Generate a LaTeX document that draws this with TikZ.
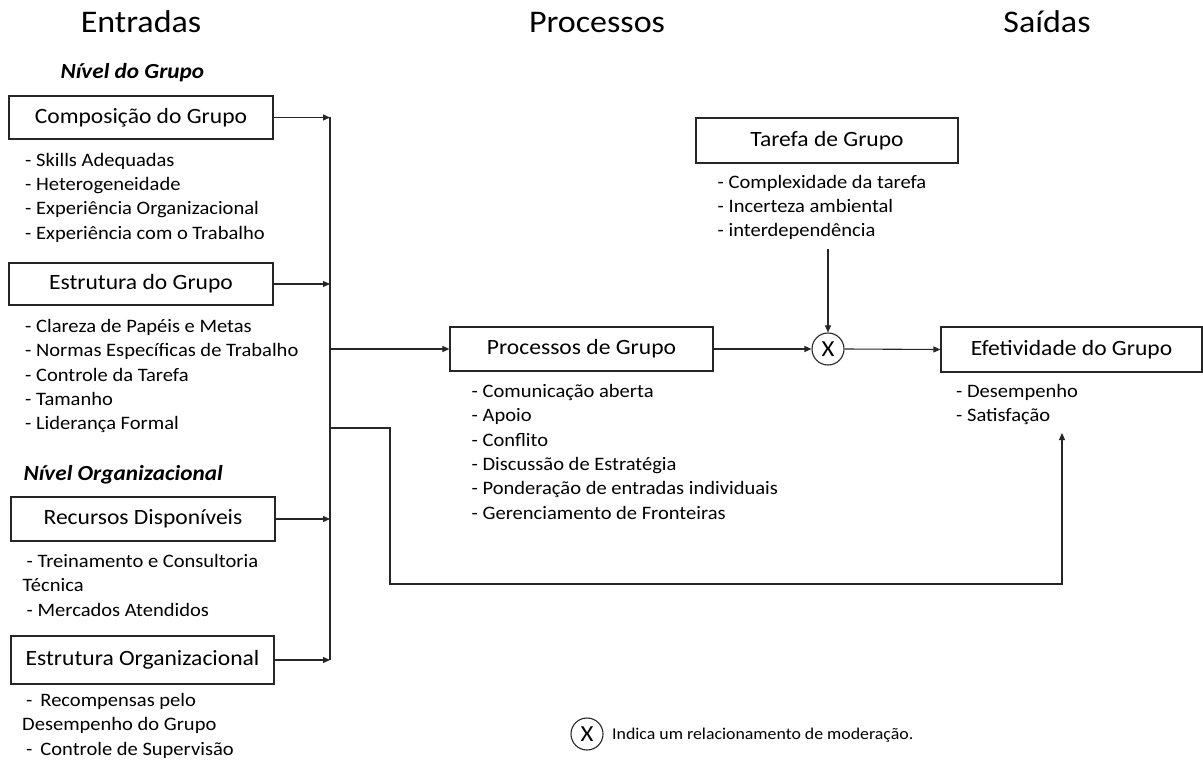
\documentclass[tikz,border=0pt]{standalone}
\usepackage{fontspec}
\setmainfont{Carlito}[FakeStretch=1.08]
\usetikzlibrary{arrows.meta}
\begin{document}
\begin{tikzpicture}[x=1pt,y=-1pt,
  box/.style={draw=black!85,line width=1.2pt,inner sep=0pt,font=\fontsize{21.8}{26}\selectfont,text=black},
  hdr/.style={font=\fontsize{31.5}{36}\selectfont,anchor=base,text=black},
  lvl/.style={font=\fontsize{21.5}{26}\selectfont\bfseries\itshape,anchor=base west,text=black},
  lst/.style={font=\fontsize{19}{24.4}\selectfont,align=left,inner sep=0pt,anchor=north west,yshift=17.08pt,text=black},
  con/.style={line width=1.1pt,draw=black!85},
  arr/.style={con,-{Triangle[length=7pt,width=6pt]}},
  modc/.style={circle,draw=black!85,line width=1.1pt,minimum size=32pt,inner sep=0pt,font=\fontsize{23}{26}\selectfont}
]
\useasboundingbox (0,0) rectangle (1203,762);
% headers
\node[hdr] (hE) at (141,33) {Entradas};
\node[hdr] (hP) at (597,33) {Processos};
\node[hdr] (hS) at (1047,33) {Saídas};
\node[lvl] (nG) at (57,79) {Nível do Grupo};
\node[lvl] (nO) at (20,480) {Nível Organizacional};
% boxes
\node[box,minimum width=264pt,minimum height=43pt] (comp) at (141,117.5) {Composição do Grupo};
\node[box,minimum width=264pt,minimum height=42pt] (estg) at (141,284) {Estrutura do Grupo};
\node[box,minimum width=264pt,minimum height=44pt] (recur) at (143,519) {Recursos Disponíveis};
\node[box,minimum width=263pt,minimum height=48pt] (estorg) at (142.5,660) {Estrutura Organizacional};
\node[box,minimum width=263pt,minimum height=44pt] (proc) at (581.5,349) {Processos de Grupo};
\node[box,minimum width=262pt,minimum height=45pt] (tar) at (827,140.5) {Tarefa de Grupo};
\node[box,minimum width=261pt,minimum height=45pt] (efet) at (1071.5,349.5) {Efetividade do Grupo};
\node[modc] (mod) at (828,349) {X};
% lists
\node[lst] (lcomp) at (25,166) {\strut- Skills Adequadas\\- Heterogeneidade\\- Experiência Organizacional\\- Experiência com o Trabalho};
\node[lst] (lestg) at (25,332) {\strut- Clareza de Papéis e Metas\\- Normas Específicas de Trabalho\\- Controle da Tarefa\\- Tamanho\\- Liderança Formal};
\node[lst] (lrecur) at (22.5,567) {\strut\hspace{4pt}- Treinamento e Consultoria\\Técnica\\\hspace{4pt}- Mercados Atendidos};
\node[lst] (lestorg) at (22,706) {\strut\hspace{4pt}-\hspace{8pt}Recompensas pelo\\Desempenho do Grupo\\\hspace{4pt}-\hspace{8pt}Controle de Supervisão};
\node[lst] (lproc) at (471.5,397) {\strut- Comunicação aberta\\- Apoio\\- Conflito\\- Discussão de Estratégia\\- Ponderação de entradas individuais\\- Gerenciamento de Fronteiras};
\node[lst] (ltar) at (717.5,188) {\strut- Complexidade da tarefa\\- Incerteza ambiental\\- interdependência};
\node[lst] (lefet) at (956,397) {\strut- Desempenho\\- Satisfação};
% bus
\coordinate (bt) at (330,117);
\coordinate (bb) at (330,660);
\coordinate (bp) at (330,349);
\coordinate (bl) at (330,428);
\coordinate (l1) at (390,428);
\coordinate (l2) at (390,584);
\coordinate (l3) at (1062,584);
\coordinate (l4) at (1062,433);
\coordinate (ts) at (828,249);
\draw[con] (bt) -- (bb);
\draw[arr] (comp.east) -- (comp.east -| bt);
\draw[arr] (estg.east) -- (estg.east -| bt);
\draw[arr] (recur.east) -- (recur.east -| bt);
\draw[arr] (estorg.east) -- (estorg.east -| bt);
\draw[arr] (bp) -- (proc.west);
\draw[arr] (bl) -- (l1) -- (l2) -- (l3) -- (l4);
\draw[arr] (proc.east) -- (mod.west);
\draw[arr] (mod.east) -- (efet.west);
\draw[arr] (ts) -- (mod.north);
% legend
\node[modc] (legX) at (587,734) {X};
\node[font=\fontsize{16.5}{19}\selectfont,anchor=base west,inner sep=0pt,text=black] (legT) at (612,739) {Indica um relacionamento de moderação.};
\end{tikzpicture}
\end{document}
